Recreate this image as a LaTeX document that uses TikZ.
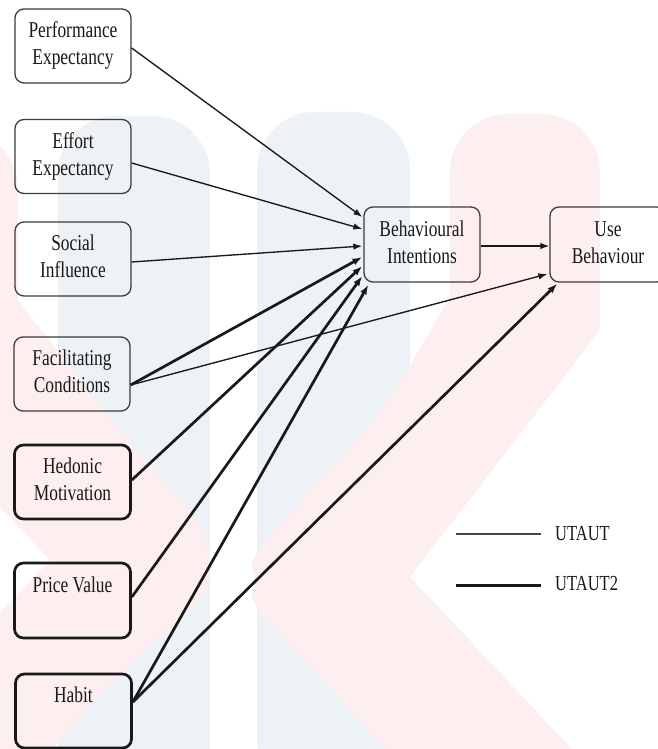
\documentclass[tikz,border=0pt]{standalone}
\usepackage{fontspec}
\setmainfont{Liberation Serif}
\usepackage{graphicx}
\usetikzlibrary{arrows.meta,calc}
\definecolor{wmpink}{RGB}{253,239,239}
\definecolor{wmblue}{RGB}{237,242,247}
\definecolor{ink}{RGB}{25,25,25}
\newcommand{\boxtxt}[1]{\scalebox{1}[1.3]{\fontsize{17.4}{20.8}\selectfont\begin{tabular}{@{}c@{}}#1\end{tabular}}}
\newcommand{\legtxt}[1]{\scalebox{1}[1.3]{\fontsize{16.5}{20}\selectfont #1}}
\tikzset{
  box/.style={draw=ink!85, line width=1.3pt, rounded corners=9pt, minimum width=116pt,
    minimum height=74pt, inner sep=0pt, align=center, text=ink},
  boxB/.style={box, draw=ink, line width=2.7pt},
  thinarrow/.style={draw=ink, line width=1.35pt, -{Latex[length=9pt,width=6.5pt]}},
  thickarrow/.style={draw=ink, line width=2.7pt, -{Latex[length=10pt,width=7pt]}},
  legnode/.style={anchor=west, inner sep=0pt, text=ink}
}
\begin{document}
\begin{tikzpicture}[x=1pt,y=-1pt]
\useasboundingbox (0,0) rectangle (658,749);
\fill[white] (0,0) rectangle (658,749);
% watermark
\begin{scope}
\clip (0,0) rectangle (658,749);
\fill[wmblue, rounded corners=58pt] (58,800) -- (58,116) -- (210,116) -- (210,800) -- cycle;
\fill[wmblue, rounded corners=58pt] (257,800) -- (257,112) -- (410,112) -- (410,800) -- cycle;
\fill[wmpink] plot[smooth, tension=0.55] coordinates {(392,762) (380,743) (262,614) (256,580) (262,546) (380,410) (450,296)}
  [rounded corners=58pt] -- (450,114) -- (600,114) [sharp corners] -- (600,330) -- (410,577) -- (584,762) -- cycle;
\fill[wmpink] plot[smooth, tension=0.55] coordinates {(18,300) (120,430) (196,520) (208,560) (200,598) (120,673) (40,762)}
  -- (-140,762) -- (50,560) -- (-134,365) [rounded corners=58pt] -- (-134,130) -- (18,130) [sharp corners] -- cycle;
\end{scope}
% boxes
\node[box] (PE) at (73,46) {\boxtxt{Performance\\Expectancy}};
\node[box] (EE) at (73,156.5) {\boxtxt{Effort\\Expectancy}};
\node[box] (SI) at (73,259) {\boxtxt{Social\\Influence}};
\node[box] (FC) at (72,374) {\boxtxt{Facilitating\\Conditions}};
\node[boxB] (HM) at (72.5,482) {\boxtxt{Hedonic\\Motivation}};
\node[boxB, minimum height=75pt] (PV) at (72.5,600.5) {\boxtxt{Price Value\\\mbox{}}};
\node[boxB] (HB) at (73.5,711) {\boxtxt{Habit\\\mbox{}}};
\node[box, minimum height=75pt] (BI) at (422,244.5) {\boxtxt{Behavioural\\Intentions}};
\node[box, minimum height=75pt] (UB) at (608,244.5) {\boxtxt{Use\\Behaviour}};
% connectors
\draw[thinarrow] ($(PE.east)+(0,2)$) -- ($(BI.west)+(-1,-27.5)$);
\draw[thinarrow] ($(EE.east)+(0,6.5)$) -- ($(BI.west)+(-1,-15.5)$);
\draw[thinarrow] ($(SI.east)+(0,3)$) -- ($(BI.west)+(-1,1.5)$);
\draw[thickarrow] ($(FC.east)+(0,11)$) -- ($(BI.west)+(-1,12.5)$);
\draw[thinarrow] ($(FC.east)+(0,11)$) -- ($(UB.west)+(-2,29.5)$);
\draw[thickarrow] ($(HM.east)+(0,-2)$) -- ($(BI.west)+(-1,21.5)$);
\draw[thickarrow] ($(PV.east)+(0,-3.5)$) -- ($(BI.west)+(-1,31.5)$);
\draw[thickarrow] ($(HB.east)+(0,-9)$) -- ($(BI.south west)+(5,2)$);
\draw[thickarrow] ($(HB.east)+(0,-9)$) -- ($(UB.south west)+(8,1)$);
\draw[thinarrow] ($(BI.east)+(0,1.5)$) -- ($(UB.west)+(0,1.5)$);
% legend
\coordinate (L1a) at (456,534);
\coordinate (L1b) at (541,534);
\coordinate (L2a) at (456,585);
\coordinate (L2b) at (541,585);
\draw[ink!80, line width=1.3pt] (L1a) -- (L1b);
\draw[ink, line width=3pt] (L2a) -- (L2b);
\node[legnode] (LT1) at (555,534) {\legtxt{UTAUT}};
\node[legnode] (LT2) at (555,583) {\legtxt{UTAUT2}};
\end{tikzpicture}
\end{document}
